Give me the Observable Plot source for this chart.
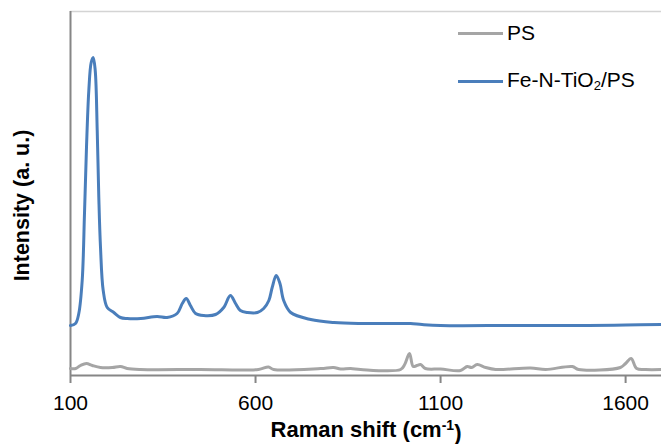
<!DOCTYPE html>
<html>
<head>
<meta charset="utf-8">
<script src="https://cdn.jsdelivr.net/npm/d3@7"></script>
<script src="https://cdn.jsdelivr.net/npm/@observablehq/plot@0.6"></script>
<style>
  html, body { margin: 0; padding: 0; background: #fff; }
  #wrap { position: relative; width: 661px; height: 444px; font-family: "Liberation Sans", Arial, sans-serif; }
  #legend { position: absolute; left: 0; top: 0; width: 661px; height: 444px; pointer-events: none; }
  .lg-line { position: absolute; height: 3px; width: 45px; left: 458px; }
  .lg-text { position: absolute; left: 507px; font-size: 21px; color: #000; line-height: 1; }
  .lg-text sub { font-size: 13px; vertical-align: -3px; line-height: 0; }
</style>
</head>
<body>
<div id="wrap">
  <div id="chart"></div>
  <div id="legend">
    <div class="lg-line" style="top:32px;background:#a5a5a5"></div>
    <div class="lg-text" style="top:22px">PS</div>
    <div class="lg-line" style="top:80px;background:#4a7ebb"></div>
    <div class="lg-text" style="top:69px">Fe-N-TiO<sub>2</sub>/PS</div>
  </div>
</div>
<script>
// Raman shift (cm-1) and intensity (a.u.)
const blueShift = [100,113.5,122.4,131.6,137.8,143.2,149.5,155.9,161.4,166.8,172.2,176.5,181.1,188.4,199.2,217,235,253,290,334,361,388,402,412.7,424,438,460,492,514,532,546,559,578,605,622,636,645,656,666,676,695,749,812,884,990,1019,1050,1100,1300,1500,1600,1697];
const blueInt   = [50,52,62,95,162,228,285,313,318,305,245,178,128,85,68,63,58,57,57,59,58,62,72,77,70,62,60,61,68,80,72,65,63,63,67,75,88,100,92,75,63,56,53,52,52,52,51,50,50,50,50.5,51];

const psShift = [100,114,127,143,159,181,213,235,253,289,450,608,635,649,776,811,830,857,884,992,1003,1016,1026,1036,1046,1059,1100,1154,1172,1184,1199,1222,1249,1343,1384,1456,1473,1586,1600,1615,1630,1654,1697];
const psInt   = [7,7,10,12,10,8,8,9,7,6,6,6,8.5,6,7,8,6.5,7,6,6,11,22,9,10,11,7,6.5,5,9,8,11,8,6,7.5,6,9,6,8,12,17,7,6,6];

const xTicks = [100, 600, 1100, 1600];
const xDomain = [100, 1697];
const yDomain = [0, 364];

const blue = blueShift.map((x, i) => ({x, y: blueInt[i]}));
const ps = psShift.map((x, i) => ({x, y: psInt[i]}));

const chart = Plot.plot({
  width: 661,
  height: 444,
  marginLeft: 70,
  marginRight: 0,
  marginTop: 11,
  marginBottom: 69,
  style: { fontFamily: "'Liberation Sans', Arial, sans-serif", background: "#fff", overflow: "visible" },
  x: { domain: xDomain },
  y: { domain: yDomain },
  marks: [
    Plot.ruleY([yDomain[1]], { stroke: "#d4d4d4", strokeWidth: 1.5 }),
    Plot.ruleX([xDomain[0]], { stroke: "#868686", strokeWidth: 2 }),
    Plot.ruleY([yDomain[0]], { stroke: "#868686", strokeWidth: 2 }),
    Plot.axisX({ ticks: xTicks, tickSize: 8, tickPadding: 12, fontSize: 21, stroke: "#868686", strokeWidth: 2, label: null, tickFormat: d => String(d), color: "#000" }),
    Plot.axisY({ ticks: [], label: null }),
    Plot.line(ps, { x: "x", y: "y", stroke: "#a5a5a5", strokeWidth: 3, curve: "catmull-rom" }),
    Plot.line(blue, { x: "x", y: "y", stroke: "#4a7ebb", strokeWidth: 3, curve: "catmull-rom" }),
    Plot.text(["Raman shift (cm-1)"], { frameAnchor: "bottom", dy: 54, fontSize: 22, fontWeight: "bold", fill: "#000", lineAnchor: "middle", textAnchor: "middle" }),
    Plot.text(["Intensity (a. u.)"], { frameAnchor: "left", dx: -48, dy: 12, rotate: -90, fontSize: 21.5, fontWeight: "bold", fill: "#000", lineAnchor: "middle", textAnchor: "middle" })
  ]
});
document.getElementById("chart").appendChild(chart);

// superscript for cm-1
d3.select(chart).selectAll("text").each(function() {
  const t = d3.select(this);
  if (t.text() === "Raman shift (cm-1)") {
    t.text(null);
    t.append("tspan").text("Raman shift (cm");
    t.append("tspan").attr("dy", "-0.45em").attr("font-size", "14").text("-1");
    t.append("tspan").attr("dy", "0.45em").text(")");
  }
});
</script>
</body>
</html>
